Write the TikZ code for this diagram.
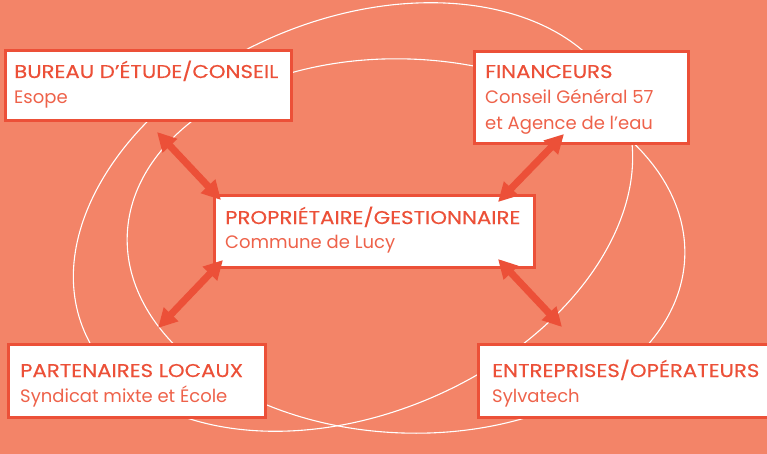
\documentclass[tikz,border=0pt]{standalone}
\usepackage{fontspec}
\setmainfont{Poppins}
\newfontfamily\titlefont{Poppins}[FakeBold=0.3,FakeStretch=1.15]
\usetikzlibrary{arrows.meta,calc}
\definecolor{bgc}{RGB}{243,132,104}
\definecolor{redc}{RGB}{236,80,56}
\definecolor{subc}{RGB}{238,98,74}
\tikzset{
  boxst/.style={draw=redc, line width=3pt, fill=white, inner sep=0pt, outer sep=0pt, anchor=north west},
  ttl/.style={anchor=base west, inner sep=0pt, text=redc, font=\titlefont\fontsize{18.5}{22}\selectfont},
  sub/.style={anchor=base west, inner sep=0pt, text=subc, font=\fontsize{18}{22}\selectfont},
  ring/.style={draw=white, line width=1.1pt},
  dbl/.style={draw=redc, line width=7pt, {Triangle[length=19pt,width=19pt]}-{Triangle[length=19pt,width=19pt]}}
}
\begin{document}
\begin{tikzpicture}[x=1pt,y=-1pt]
\fill[bgc] (0,0) rectangle (767,454);
\useasboundingbox (0,0) rectangle (767,454);
\clip (0,0) rectangle (767,454);
% rings
\draw[ring, rotate around={23:(353,217)}] (353,217) ellipse [x radius=292, y radius=197];
\draw[ring, rotate around={-2.4:(406,246)}] (406,246) ellipse [x radius=279, y radius=187];
% boxes
\node[boxst, minimum width=286pt, minimum height=70pt] (bureau) at (5.5,50.5) {};
\node[boxst, minimum width=214pt, minimum height=92pt] (fin) at (474.5,51.5) {};
\node[boxst, minimum width=320pt, minimum height=72pt] (prop) at (214.5,195.5) {};
\node[boxst, minimum width=257pt, minimum height=73pt] (part) at (8.5,344.5) {};
\node[boxst, minimum width=300pt, minimum height=73pt] (entr) at (478.5,344.5) {};
% texts
\node[ttl] (bureauT) at (14,78) {BUREAU D’ÉTUDE/CONSEIL};
\node[sub] (bureauS) at (14,104) {Esope};
\node[ttl] (finT) at (485,78) {FINANCEURS};
\node[sub] (finS1) at (485,104) {Conseil Général 57};
\node[sub] (finS2) at (485,130) {et Agence de l’eau};
\node[ttl] (propT) at (225,224) {PROPRIÉTAIRE/GESTIONNAIRE};
\node[sub] (propS) at (225,248) {Commune de Lucy};
\node[ttl] (partT) at (20,377) {PARTENAIRES LOCAUX};
\node[sub] (partS) at (20,402) {Syndicat mixte et École};
\node[ttl] (entrT) at (492,377) {ENTREPRISES/OPÉRATEURS};
\node[sub] (entrS) at (492,402) {Sylvatech};
% arrow ends
\coordinate (a1s) at (157,132);
\coordinate (a1e) at (221,200);
\coordinate (a2s) at (564,134);
\coordinate (a2e) at (498,202);
\coordinate (a3s) at (223,260);
\coordinate (a3e) at (158,328);
\coordinate (a4s) at (498,259);
\coordinate (a4e) at (562,327);
\draw[dbl] (a1s) -- (a1e);
\draw[dbl] (a2s) -- (a2e);
\draw[dbl] (a3s) -- (a3e);
\draw[dbl] (a4s) -- (a4e);
\end{tikzpicture}
\end{document}
